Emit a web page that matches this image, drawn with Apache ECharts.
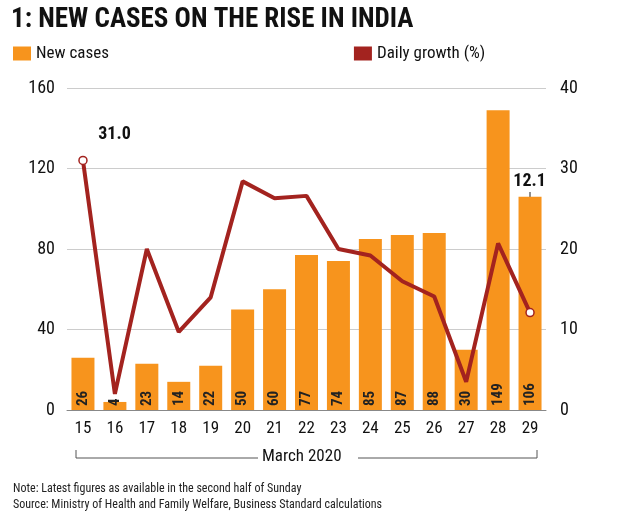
<!DOCTYPE html>
<html><head><meta charset="utf-8">
<script src="https://cdn.jsdelivr.net/npm/echarts@6/dist/echarts.min.js"></script>
<style>body{margin:0;background:#fff}#c{width:620px;height:522px}</style>
</head><body><div id="c"></div>
<script>
var days = ['15','16','17','18','19','20','21','22','23','24','25','26','27','28','29'];
var newCases = [26, 4, 23, 14, 22, 50, 60, 77, 74, 85, 87, 88, 30, 149, 106];
var dailyGrowth = [31.0, 2, 20, 9.7, 14, 28.4, 26.3, 26.6, 20, 19.2, 16, 14.1, 3.5, 20.7, 12.1];
var leftTicks = [0, 40, 80, 120, 160];
var rightTicks = [0, 10, 20, 30, 40];

var chart = echarts.init(document.getElementById('c'));
var font = 'Roboto Condensed, Liberation Sans Narrow, Roboto, sans-serif';
var lineData = dailyGrowth.map(function (v, i) {
  var d = {value: v};
  if (i === 0 || i === dailyGrowth.length - 1) {
    d.symbol = 'circle'; d.symbolSize = 8;
    d.itemStyle = {color: '#fff', borderColor: '#a3231f', borderWidth: 1.5};
    d.label = {show: true, formatter: v.toFixed(1), fontSize: 18, fontWeight: 'bold', color: '#111',
      position: i === 0 ? [20, -30] : [-12, -135]};
  }
  return d;
});
chart.setOption({
  animation: false,
  textStyle: {fontFamily: font},
  title: [
    {text: '1: NEW CASES ON THE RISE IN INDIA', left: 6, top: 2,
      textStyle: {fontSize: 27, fontWeight: 'bold', color: '#111', fontFamily: font}},
    {text: 'Note: Latest figures as available in the second half of Sunday\nSource: Ministry of Health and Family Welfare, Business Standard calculations',
      left: 8, top: 476, textStyle: {fontSize: 12, fontWeight: 'normal', color: '#222', lineHeight: 16}}
  ],
  legend: {
    top: 40, left: 8, itemGap: 245, textStyle: {fontSize: 17, color: '#111'},
    data: [{name: 'New cases', icon: 'rect'}, {name: 'Daily growth (%)', icon: 'rect', itemStyle: {color: '#a3231f'}}],
    itemWidth: 18, itemHeight: 14
  },
  grid: {left: 67, right: 74, top: 88, bottom: 112},
  xAxis: {
    type: 'category', data: days,
    axisLine: {lineStyle: {color: '#888'}}, axisTick: {show: false},
    axisLabel: {fontSize: 17, color: '#111', margin: 10}
  },
  yAxis: [
    {type: 'value', min: 0, max: 160, interval: 40,
      axisLabel: {fontSize: 18, color: '#111', margin: 12},
      axisLine: {show: false}, axisTick: {show: false},
      splitLine: {lineStyle: {color: '#ccc'}}},
    {type: 'value', min: 0, max: 40, interval: 10,
      axisLabel: {fontSize: 18, color: '#111', margin: 14},
      axisLine: {show: false}, axisTick: {show: false}, splitLine: {show: false}}
  ],
  series: [
    {name: 'New cases', type: 'bar', data: newCases, barWidth: 23, itemStyle: {color: '#f7941d'},
      label: {show: true, position: 'insideBottom', rotate: 90, align: 'left', verticalAlign: 'middle',
        distance: 4, fontSize: 15, fontWeight: 'bold', color: '#222'}},
    {name: 'Daily growth (%)', type: 'line', yAxisIndex: 1, data: lineData, showSymbol: true,
      symbol: 'none', lineStyle: {color: '#a3231f', width: 4}, itemStyle: {color: '#a3231f'}}
  ],
  graphic: [
    {type: 'polyline', shape: {points: [[76, 450], [76, 458], [537, 458], [537, 450]]}, style: {stroke: '#555', lineWidth: 1}},
    {type: 'rect', shape: {x: 258, y: 448, width: 100, height: 20}, style: {fill: '#fff'}},
    {type: 'text', left: 262, top: 448, style: {text: 'March 2020', fontSize: 17, fill: '#111', fontFamily: font}},
    {type: 'line', shape: {x1: 530, y1: 192, x2: 530, y2: 306}, style: {stroke: '#222', lineWidth: 1}}
  ]
});
</script></body></html>
